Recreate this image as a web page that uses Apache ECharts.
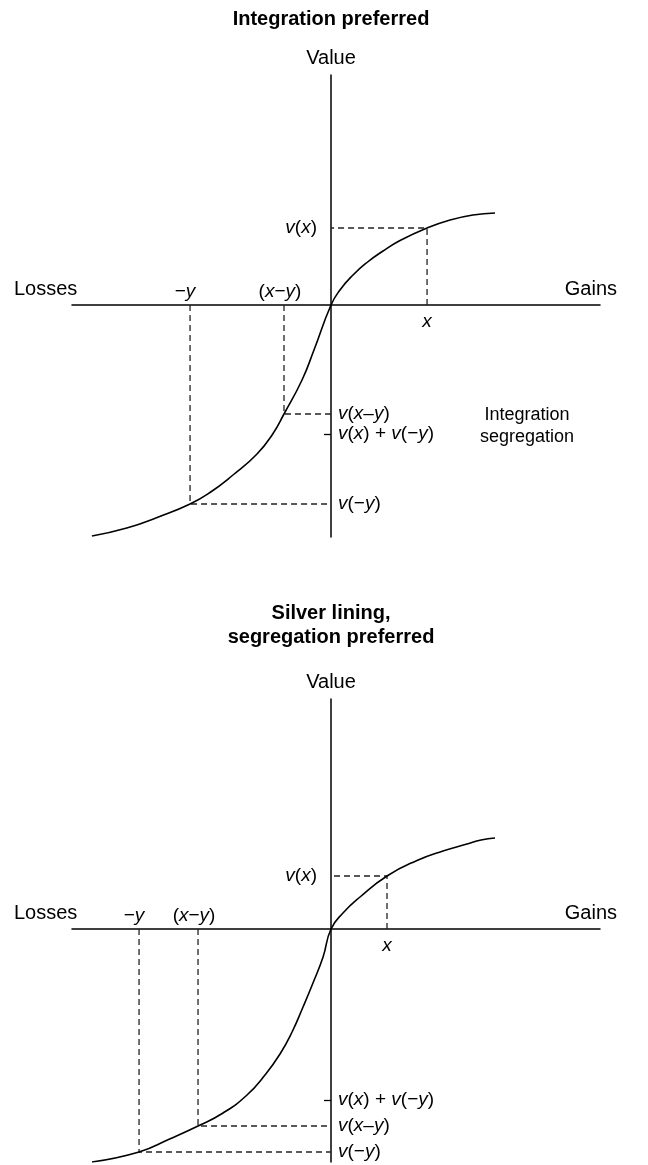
<!DOCTYPE html>
<html>
<head>
<meta charset="utf-8">
<script src="https://cdn.jsdelivr.net/npm/echarts@6/dist/echarts.min.js"></script>
<style>
  html, body { margin: 0; padding: 0; background: #fff; }
  #chart { width: 648px; height: 1165px; }
</style>
</head>
<body>
<div id="chart"></div>
<script>
// value function (axis units, origin = reference point)
const topCurve = [
  [-24.0, -23.1], [-20.5, -22.3], [-17.2, -21.15], [-14.15, -19.9], [-12.15, -18.75],
  [-9.84, -17.0], [-7.43, -14.9], [-5.82, -12.85], [-4.72, -10.9], [-2.91, -7.5],
  [-1.71, -4.5], [0, 0], [0.9, 1.5], [2.21, 3.0], [3.61, 4.25], [5.22, 5.4],
  [6.93, 6.45], [9.64, 7.7], [11.95, 8.5], [14.25, 9.0], [16.46, 9.2]
];
const bottomCurve = [
  [-23.99, -23.3], [-19.27, -22.3], [-16.2, -21.0], [-13.35, -19.7], [-10.84, -18.4],
  [-8.43, -16.6], [-6.63, -14.6], [-5.12, -12.5], [-3.91, -10.3], [-2.81, -7.8],
  [-1.81, -5.4], [-0.8, -2.8], [0, 0], [1.2, 1.6], [2.91, 3.2], [5.62, 5.3],
  [8.63, 6.85], [11.24, 7.8], [13.65, 8.5], [15.06, 8.9], [16.46, 9.1]
];

// guide points: x, (x-y), -y  and their values
const topGuideX = [9.64, -4.72, -14.15];
const topGuideV = [7.7, -10.9, -19.9];
const topSum = -12.9; // v(x) + v(-y)
const bottomGuideX = [5.62, -13.35, -19.27];
const bottomGuideV = [5.3, -19.7, -22.3];
const bottomSum = -17.1;

const xRange = [-26, 27];
const titles = ["Integration preferred", "Silver lining,\nsegregation preferred"];

const font = "'Liberation Sans', Arial, Helvetica, sans-serif";

const chart = echarts.init(document.getElementById("chart"));

function buildPanel(i, curve, gx, gv, sum, yMin) {
  const axisLine = { color: "#000", width: 1.5 };
  const dash = { type: [6, 4], color: "#222", width: 1.3 };
  const grid = { left: 72, right: 48, top: i === 0 ? 75 : 699, height: i === 0 ? 462 : 463 };
  const xAxis = {
    type: "value",
    gridIndex: i,
    min: xRange[0],
    max: xRange[1],
    axisLine: { onZero: true, lineStyle: axisLine },
    axisTick: { show: false },
    axisLabel: { show: false },
    splitLine: { show: false },
  };
  const yAxis = {
    type: "value",
    gridIndex: i,
    min: yMin,
    max: 23,
    name: "Value",
    nameLocation: "end",
    nameGap: 7,
    nameTextStyle: { fontSize: 20, color: "#000", fontFamily: font },
    axisLine: { show: true, onZero: true, lineStyle: axisLine },
    axisTick: {
      show: true,
      customValues: [sum],
      length: 7,
      lineStyle: { color: "#000", width: 1.3 },
    },
    axisLabel: { show: false },
    splitLine: { show: false },
  };

  const series = [];
  // dashed guides: axis -> curve -> value axis
  gx.forEach((x, k) => {
    series.push({
      type: "line",
      xAxisIndex: i,
      yAxisIndex: i,
      data: [[x, 0], [x, gv[k]], [0, gv[k]]],
      showSymbol: false,
      silent: true,
      lineStyle: dash,
      z: 2,
    });
  });
  series.push({
    type: "line",
    xAxisIndex: i,
    yAxisIndex: i,
    data: curve,
    smooth: 0.5,
    showSymbol: false,
    silent: true,
    lineStyle: { color: "#000", width: 1.6 },
    z: 3,
  });

  const labels = [
    { value: [gx[0], 0], label: { formatter: "{i|x}", position: "bottom", distance: 7 } },
    { value: [gx[1], 0], label: { formatter: "({i|x}−{i|y})", position: "top", distance: 4, offset: [-4, 0] } },
    { value: [gx[2], 0], label: { formatter: "−{i|y}", position: "top", distance: 4, offset: [-5, 0] } },
    { value: [0, gv[0]], label: { formatter: "{i|v}({i|x})", position: "left", distance: 14 } },
    { value: [0, gv[1]], label: { formatter: "{i|v}({i|x}–{i|y})", position: "right", distance: 7 } },
    { value: [0, sum], label: { formatter: "{i|v}({i|x}) + {i|v}(−{i|y})", position: "right", distance: 7 } },
    { value: [0, gv[2]], label: { formatter: "{i|v}(−{i|y})", position: "right", distance: 7 } },
    { value: [xRange[0], 0], label: { formatter: "Losses", position: "top", align: "left", offset: [-58, 0], distance: 6, fontSize: 20 } },
    { value: [xRange[1], 0], label: { formatter: "Gains", position: "top", align: "right", offset: [17, 0], distance: 6, fontSize: 20 } },
  ];
  if (i === 0) {
    labels.push({
      value: [0, gv[1]],
      label: {
        formatter: "Integration\nsegregation",
        position: "right",
        align: "center",
        distance: 5,
        offset: [191, 12],
        lineHeight: 22,
        fontSize: 18,
      },
    });
  }
  series.push({
    type: "scatter",
    xAxisIndex: i,
    yAxisIndex: i,
    symbolSize: 0,
    silent: true,
    data: labels,
    itemStyle: { opacity: 1 },
    label: {
      show: true,
      color: "#000",
      opacity: 1,
      fontSize: 19,
      fontFamily: font,
      rich: {
        i: { fontStyle: "italic", fontSize: 19, fontFamily: font, color: "#000" },
      },
    },
    z: 4,
  });

  return { grid, xAxis, yAxis, series };
}

const p1 = buildPanel(0, topCurve, topGuideX, topGuideV, topSum, -23.2);
const p2 = buildPanel(1, bottomCurve, bottomGuideX, bottomGuideV, bottomSum, -23.3);

chart.setOption({
  backgroundColor: "#fff",
  animation: false,
  textStyle: { fontFamily: font },
  grid: [p1.grid, p2.grid],
  xAxis: [p1.xAxis, p2.xAxis],
  yAxis: [p1.yAxis, p2.yAxis],
  series: p1.series.concat(p2.series),
  graphic: [
    {
      type: "text",
      x: 331,
      y: 19,
      style: {
        text: titles[0],
        align: "center",
        verticalAlign: "middle",
        font: "bold 20px " + font,
        fill: "#000",
      },
    },
    {
      type: "text",
      x: 331,
      y: 625,
      style: {
        text: titles[1],
        align: "center",
        verticalAlign: "middle",
        lineHeight: 24,
        font: "bold 20px " + font,
        fill: "#000",
      },
    },
  ],
});
</script>
</body>
</html>
